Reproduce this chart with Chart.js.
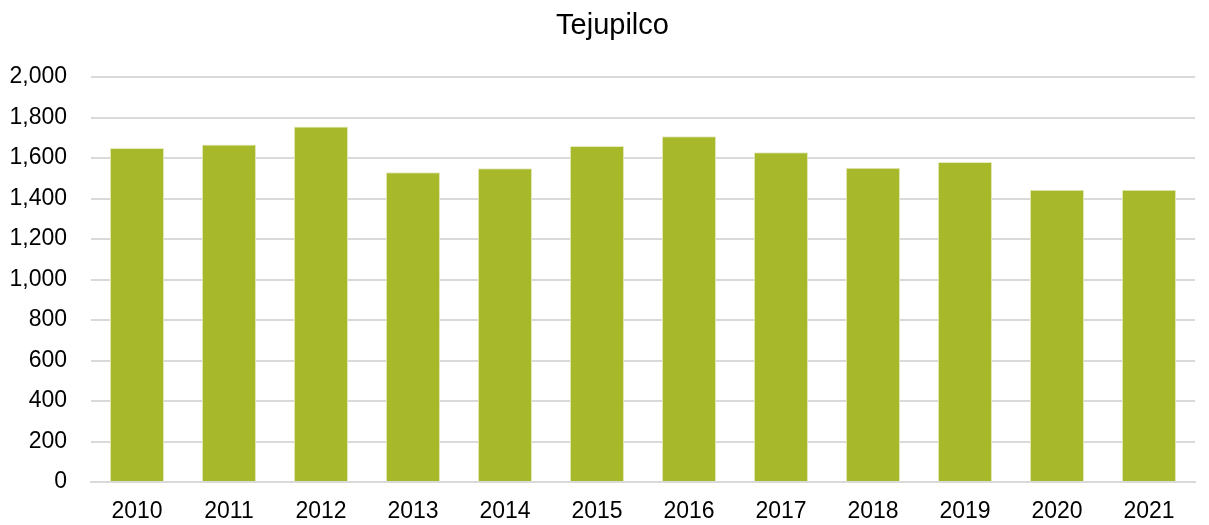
<!DOCTYPE html>
<html>
<head>
<meta charset="utf-8">
<script src="https://cdn.jsdelivr.net/npm/chart.js@4"></script>
<style>
  html, body { margin: 0; padding: 0; background: #fff; }
  #wrap { width: 1209px; height: 525px; }
</style>
</head>
<body>
<div id="wrap"><canvas id="plot"></canvas></div>
<script>
let years = ['2010', '2011', '2012', '2013', '2014', '2015', '2016', '2017', '2018', '2019', '2020', '2021'];
let valores = [1649, 1667, 1756, 1530, 1550, 1659, 1708, 1629, 1552, 1580, 1443, 1443];
let titulo = 'Tejupilco';

let fuente = '"Liberation Sans", Arial, sans-serif';

// the built-in title centres on the padded box, the original sits a bit more to the right
let tituloPlugin = {
    id: 'tituloCentrado',
    afterDraw: (chart) => {
        let ctx = chart.ctx;
        ctx.save();
        ctx.font = '29px ' + fuente;
        ctx.fillStyle = '#000';
        ctx.textAlign = 'center';
        ctx.textBaseline = 'middle';
        ctx.fillText(titulo, chart.width / 2 + 8, 26);
        ctx.restore();
    }
};

let makeBarChart = (data, plot, labels, title) => {
    let plotRef = document.getElementById(plot);
    let config = {
        type: 'bar',
        data: {
            labels: labels,
            datasets: [
                {
                    label: title,
                    data: data,
                    backgroundColor: '#a7b82a',
                    borderColor: '#e6ebc2',
                    borderWidth: 1,
                    categoryPercentage: 1,
                    barPercentage: 0.59
                }
            ]
        },
        options: {
            responsive: true,
            maintainAspectRatio: false,
            animation: false,
            layout: { padding: { left: 0, right: 14, top: 77, bottom: 0 } },
            plugins: {
                legend: { display: false },
                tooltip: { enabled: false },
                title: { display: false }
            },
            scales: {
                x: {
                    grid: { display: false, drawTicks: false },
                    border: { color: '#d9d9d9', width: 2 },
                    ticks: { color: '#000', font: { family: fuente, size: 23 }, padding: 16 },
                    afterFit: (scale) => { scale.height = 43; }
                },
                y: {
                    min: 0,
                    max: 2000,
                    grid: { color: '#d9d9d9', lineWidth: 2, drawTicks: false },
                    border: { display: false },
                    ticks: {
                        stepSize: 200,
                        color: '#000',
                        font: { family: fuente, size: 23 },
                        padding: 24,
                        callback: (v) => v.toLocaleString('en-US')
                    },
                    afterFit: (scale) => { scale.width = 91; }
                }
            }
        },
        plugins: [tituloPlugin]
    };
    return new Chart(plotRef, config);
};

makeBarChart(valores, 'plot', years, titulo);
</script>
</body>
</html>
